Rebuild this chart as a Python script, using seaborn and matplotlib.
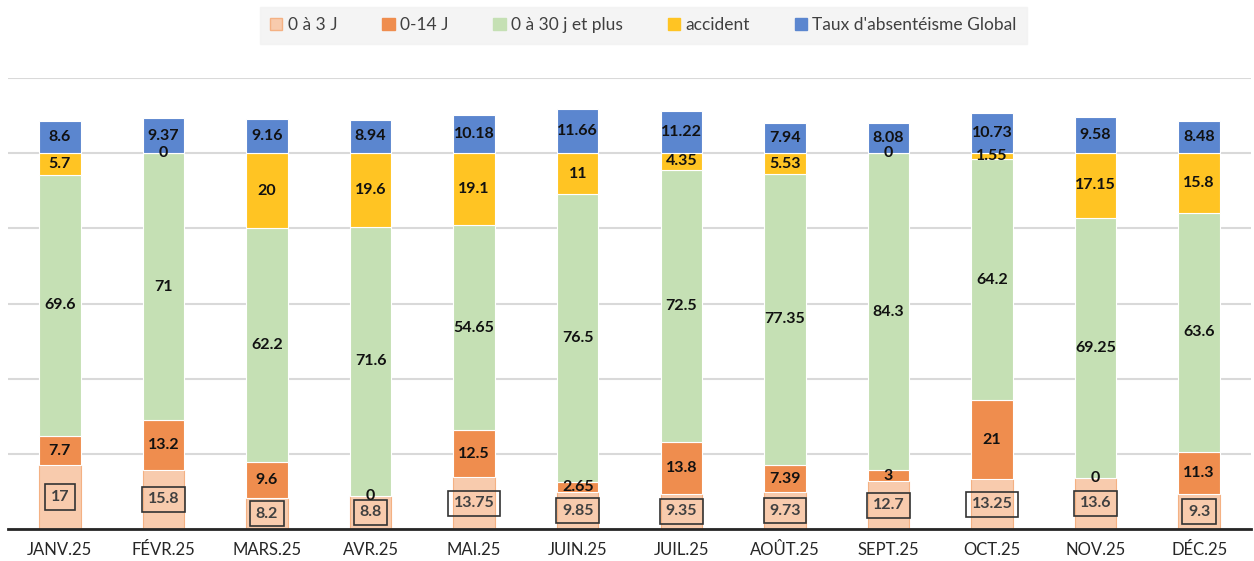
import numpy as np
import pandas as pd
import matplotlib
matplotlib.use("Agg")
import matplotlib.pyplot as plt
import seaborn as sns
from matplotlib.patches import Patch

months = ["JANV.25", "FÉVR.25", "MARS.25", "AVR.25", "MAI.25", "JUIN.25",
          "JUIL.25", "AOÛT.25", "SEPT.25", "OCT.25", "NOV.25", "DÉC.25"]
j0_3 = [17, 15.8, 8.2, 8.8, 13.75, 9.85, 9.35, 9.73, 12.7, 13.25, 13.6, 9.3]
j0_14 = [7.7, 13.2, 9.6, 0, 12.5, 2.65, 13.8, 7.39, 3, 21, 0, 11.3]
j0_30 = [69.6, 71, 62.2, 71.6, 54.65, 76.5, 72.5, 77.35, 84.3, 64.2, 69.25, 63.6]
accident = [5.7, 0, 20, 19.6, 19.1, 11, 4.35, 5.53, 0, 1.55, 17.15, 15.8]
global_rate = [8.6, 9.37, 9.16, 8.94, 10.18, 11.66, 11.22, 7.94, 8.08, 10.73, 9.58, 8.48]

series = ["0 à 3 J", "0-14 J", "0 à 30 j et plus", "accident", "Taux d'absentéisme Global"]
values = [j0_3, j0_14, j0_30, accident, global_rate]
colors = ["#f8cbad", "#ef8d4e", "#c5e0b4", "#ffc423", "#5b86cf"]

sns.set_theme(style="white")
plt.rcParams["font.family"] = ["Lato", "DejaVu Sans"]

fig = plt.figure(figsize=(12.54, 5.61), dpi=100)
ax = fig.add_axes([0.0064, 0.057, 0.9912, 0.804])

df = pd.DataFrame({"mois": months})
bottom = np.zeros(len(months))
for name, vals, col in zip(series, values, colors):
    df[name] = vals
    edge = "#f4b183" if name == "0 à 3 J" else "white"
    sns.barplot(data=df, x="mois", y=name, bottom=bottom, color=col, width=0.4,
                edgecolor=edge, linewidth=0.8, saturation=1, ax=ax, zorder=3)
    vals = np.array(vals, dtype=float)
    for i, v in enumerate(vals):
        yc = bottom[i] + v / 2
        if name == "0 à 3 J":
            ax.text(i, yc, f"{v:g}", ha="center", va="center", fontsize=11.5,
                    fontweight="bold", color="#404040", zorder=5,
                    bbox=dict(boxstyle="square,pad=0.35", fc="none", ec="#333333", lw=1.2))
        else:
            ax.text(i, yc, f"{v:g}", ha="center", va="center", fontsize=11.5,
                    fontweight="bold", color="#111111", zorder=5)
    bottom = bottom + vals

ax.set_ylim(0, 120)
ax.set_xlim(-0.5, len(months) - 0.5)
ax.set_yticks([0, 20, 40, 60, 80, 100, 120])
ax.set_yticklabels([])
ax.yaxis.grid(True, color="#d9d9d9", lw=1.5, zorder=0)
ax.xaxis.grid(False)
ax.set_xlabel("")
ax.set_ylabel("")
for s in ["top", "left", "right"]:
    ax.spines[s].set_visible(False)
ax.spines["bottom"].set_color("#262626")
ax.spines["bottom"].set_linewidth(2)
ax.spines["bottom"].set_zorder(6)
ax.tick_params(axis="y", length=0)
ax.tick_params(axis="x", which="major", length=0, labelsize=12, labelcolor="#262626", pad=9)
ax.set_xticks(np.arange(-0.5, len(months), 1), minor=True)
ax.tick_params(axis="x", which="minor", length=7, width=1.5, color="#262626", direction="out")

handles = [Patch(facecolor=c, edgecolor=("#f4b183" if i == 0 else c)) for i, c in enumerate(colors)]
leg = fig.legend(handles, series, loc="center", bbox_to_anchor=(0.513, 0.955), ncol=5,
                 frameon=True, fontsize=12.5, handlelength=0.7, handleheight=0.7,
                 handletextpad=0.3, columnspacing=2.6, borderpad=0.6, fancybox=False)
leg.get_frame().set_facecolor("#f2f2f2")
leg.get_frame().set_edgecolor("#f2f2f2")
for t in leg.get_texts():
    t.set_color("#404040")

fig.savefig("out.png", dpi=100)
